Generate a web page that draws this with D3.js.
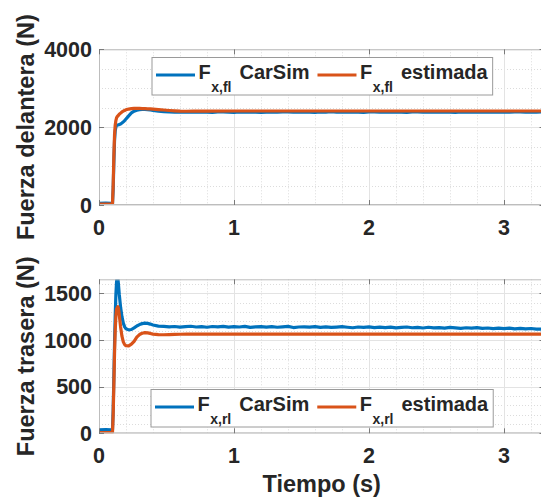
<!DOCTYPE html>
<html>
<head>
<meta charset="utf-8">
<script src="https://cdn.jsdelivr.net/npm/d3@7"></script>
<style>
  html, body { margin: 0; padding: 0; background: #fff; }
  svg { display: block; }
</style>
</head>
<body>
<svg id="chart" width="541" height="502"></svg>
<script>
// ---- Data -------------------------------------------------------------
// Start-up transient sample times (s), shared by every signal
const tiempoTransitorio = [0, 0.05, 0.09, 0.10, 0.105, 0.11, 0.115, 0.12, 0.125, 0.13,
  0.135, 0.14, 0.145, 0.15, 0.16, 0.17, 0.18, 0.19, 0.20, 0.22,
  0.24, 0.26, 0.28, 0.30, 0.32, 0.34, 0.36, 0.38, 0.40, 0.44];

// Steady-state sample times of the CarSim signals (s)
const tiempoCarSimEstable = [
  0.48, 0.52, 0.56, 0.60, 0.64, 0.68, 0.72, 0.76, 0.80, 0.84,
  0.88, 0.92, 0.96, 1.00, 1.04, 1.08, 1.12, 1.16, 1.20, 1.24,
  1.28, 1.32, 1.36, 1.40, 1.44, 1.48, 1.52, 1.56, 1.60, 1.64,
  1.68, 1.72, 1.76, 1.80, 1.84, 1.88, 1.92, 1.96, 2.00, 2.04,
  2.08, 2.12, 2.16, 2.20, 2.24, 2.28, 2.32, 2.36, 2.40, 2.44,
  2.48, 2.52, 2.56, 2.60, 2.64, 2.68, 2.72, 2.76, 2.80, 2.84,
  2.88, 2.92, 2.96, 3.00, 3.04, 3.08, 3.12, 3.16, 3.20, 3.24,
  3.28, 3.30];

// Steady-state sample times of the estimated signals (s)
const tiempoEstimadaEstable = [0.48, 0.52, 0.56, 0.60, 0.65, 0.70, 0.80, 1.0, 1.2, 1.5, 2.0, 2.5, 3.0, 3.3];

// Front longitudinal force, CarSim (N)
const fxFlCarSim = [
  45, 48, 44, 46, 400, 1100, 1650, 1900, 2000, 2040,
  2048, 2055, 2060, 2065, 2080, 2105, 2135, 2170, 2210, 2290,
  2365, 2410, 2435, 2450, 2455, 2455, 2450, 2440, 2430, 2412,
  2400, 2392, 2388, 2384, 2390, 2383, 2388, 2392, 2385, 2381,
  2389, 2394, 2386, 2382, 2390, 2387, 2393, 2384, 2380, 2388,
  2391, 2385, 2389, 2394, 2383, 2387, 2392, 2386, 2381, 2390,
  2388, 2395, 2384, 2389, 2383, 2391, 2387, 2382, 2390, 2393,
  2385, 2388, 2384, 2392, 2386, 2381, 2389, 2394, 2387, 2383,
  2390, 2385, 2392, 2388, 2382, 2389, 2386, 2393, 2384, 2388,
  2391, 2383, 2387, 2390, 2385, 2389, 2392, 2384, 2388, 2386,
  2390, 2387];

// Front longitudinal force, estimated (N)
const fxFlEstimada = [
  20, 20, 20, 25, 500, 1250, 1800, 2050, 2170, 2240,
  2270, 2290, 2310, 2330, 2360, 2390, 2410, 2430, 2445, 2465,
  2475, 2480, 2480, 2480, 2478, 2475, 2472, 2468, 2462, 2450,
  2440, 2428, 2418, 2410, 2408, 2410, 2413, 2415, 2415, 2415,
  2415, 2415, 2415, 2415];

// Rear longitudinal force, CarSim (N)
const fxRlCarSim = [
  38, 40, 36, 40, 250, 600, 950, 1250, 1480, 1620,
  1690, 1660, 1580, 1490, 1350, 1250, 1180, 1140, 1120, 1108,
  1112, 1130, 1150, 1165, 1175, 1180, 1178, 1170, 1160, 1148,
  1146, 1141, 1144, 1138, 1143, 1147, 1139, 1142, 1136, 1144,
  1140, 1145, 1137, 1142, 1139, 1146, 1135, 1141, 1143, 1138,
  1142, 1136, 1140, 1145, 1133, 1139, 1141, 1137, 1143, 1135,
  1140, 1134, 1138, 1142, 1136, 1131, 1139, 1135, 1141, 1133,
  1137, 1132, 1138, 1130, 1135, 1139, 1131, 1134, 1128, 1136,
  1130, 1133, 1127, 1134, 1129, 1124, 1131, 1126, 1132, 1125,
  1128, 1122, 1127, 1121, 1126, 1119, 1124, 1118, 1123, 1117,
  1115, 1117];

// Rear longitudinal force, estimated (N)
const fxRlEstimada = [
  8, 8, 8, 10, 200, 520, 850, 1100, 1250, 1330,
  1345, 1358, 1330, 1270, 1140, 1040, 980, 950, 938, 936,
  955, 985, 1030, 1058, 1072, 1078, 1076, 1070, 1063, 1057,
  1056, 1058, 1060, 1061, 1062, 1062, 1062, 1062, 1062, 1062,
  1062, 1062, 1062, 1062];

const tiempoCarSim = tiempoTransitorio.concat(tiempoCarSimEstable);
const tiempoEstimada = tiempoTransitorio.concat(tiempoEstimadaEstable);

const xTicks = [0, 1, 2, 3];
const xMinorTicks = [0.2, 0.4, 0.6, 0.8, 1.2, 1.4, 1.6, 1.8, 2.2, 2.4, 2.6, 2.8, 3.2];
const yTicksDelantera = [0, 2000, 4000];
const yMinorDelantera = [500, 1000, 1500, 2500, 3000, 3500];
const yTicksTrasera = [0, 500, 1000, 1500];
const yMinorTrasera = [100, 200, 300, 400, 600, 700, 800, 900, 1100, 1200, 1300, 1400, 1600];

const series = [
  { name: "CarSim", color: "#0072BD" },
  { name: "estimada", color: "#D95319" }
];

// ---- Styling ----------------------------------------------------------
const FONT = '"Liberation Sans", Arial, Helvetica, sans-serif';
const TEXT = "#262626";
const svg = d3.select("#chart");

const xLeft = 99, xRight = 544.5;
const x = d3.scaleLinear().domain([0, 3.3]).range([xLeft, xRight]);

function drawPanel(opts) {
  const { top, bottom, yMax, yTicks, yMinor, lines, yLabel, sub, legendTop, legendLeft, id } = opts;
  const y = d3.scaleLinear().domain([0, yMax]).range([bottom, top]);
  const g = svg.append("g");

  g.append("rect").attr("x", xLeft).attr("y", top)
    .attr("width", xRight - xLeft).attr("height", bottom - top).attr("fill", "#fff");

  // minor grid
  const minor = g.append("g").attr("stroke", "#dcdcdc").attr("stroke-width", 1)
    .attr("stroke-dasharray", "1,2");
  minor.selectAll(".mx").data(xMinorTicks).join("line")
    .attr("x1", d => Math.round(x(d)) + 0.5).attr("x2", d => Math.round(x(d)) + 0.5)
    .attr("y1", top).attr("y2", bottom);
  minor.selectAll(".my").data(yMinor).join("line")
    .attr("y1", d => Math.round(y(d)) + 0.5).attr("y2", d => Math.round(y(d)) + 0.5)
    .attr("x1", xLeft).attr("x2", xRight);

  // major grid
  const major = g.append("g").attr("stroke", "#e3e3e3").attr("stroke-width", 1);
  major.selectAll(".gx").data(xTicks).join("line")
    .attr("x1", d => Math.round(x(d)) + 0.5).attr("x2", d => Math.round(x(d)) + 0.5)
    .attr("y1", top).attr("y2", bottom);
  major.selectAll(".gy").data(yTicks).join("line")
    .attr("y1", d => Math.round(y(d)) + 0.5).attr("y2", d => Math.round(y(d)) + 0.5)
    .attr("x1", xLeft).attr("x2", xRight);

  // data lines
  const clipId = "clip-" + id;
  svg.append("clipPath").attr("id", clipId).append("rect")
    .attr("x", xLeft).attr("y", top).attr("width", xRight - xLeft).attr("height", bottom - top);
  const line = d3.line().x(d => x(d[0])).y(d => y(d[1]));
  const lg = g.append("g").attr("clip-path", `url(#${clipId})`);
  lines.forEach((ln, i) => {
    lg.append("path")
      .datum(d3.zip(ln.t, ln.v))
      .attr("d", line)
      .attr("fill", "none")
      .attr("stroke", series[i].color)
      .attr("stroke-width", 3.2)
      .attr("stroke-linejoin", "round")
      .attr("stroke-linecap", "round");
  });

  // axes box
  g.append("rect").attr("x", xLeft + 0.5).attr("y", top + 0.5)
    .attr("width", xRight - xLeft - 1).attr("height", bottom - top - 1)
    .attr("fill", "none").attr("stroke", "#bdbdbd").attr("stroke-width", 1);

  // inward tick marks
  const tk = g.append("g").attr("stroke", "#7a7a7a").attr("stroke-width", 1);
  xTicks.forEach(d => {
    const px = Math.round(x(d)) + 0.5;
    tk.append("line").attr("x1", px).attr("x2", px).attr("y1", bottom).attr("y2", bottom - 5);
    tk.append("line").attr("x1", px).attr("x2", px).attr("y1", top).attr("y2", top + 5);
  });
  yTicks.forEach(d => {
    const py = Math.round(y(d)) + 0.5;
    tk.append("line").attr("x1", xLeft).attr("x2", xLeft + 5).attr("y1", py).attr("y2", py);
    tk.append("line").attr("x1", xRight).attr("x2", xRight - 5).attr("y1", py).attr("y2", py);
  });

  // tick labels
  const tl = g.append("g").attr("font-family", FONT).attr("font-weight", "bold")
    .attr("font-size", 21.5).attr("fill", TEXT);
  tl.selectAll(".xl").data(xTicks).join("text")
    .attr("x", d => x(d)).attr("y", bottom + 29.5)
    .attr("text-anchor", "middle").text(d => d);
  tl.selectAll(".yl").data(yTicks).join("text")
    .attr("x", xLeft - 7).attr("y", d => y(d) + 7.7)
    .attr("text-anchor", "end").text(d => d);

  // axis label
  g.append("text")
    .attr("transform", `translate(34,${(top + bottom) / 2}) rotate(-90)`)
    .attr("text-anchor", "middle")
    .attr("font-family", FONT).attr("font-weight", "bold").attr("font-size", 23.5)
    .attr("fill", TEXT).text(yLabel);

  // legend
  const leg = g.append("g");
  const box = leg.append("rect").attr("fill", "#fff").attr("stroke", "#9a9a9a").attr("stroke-width", 1);
  let cx = legendLeft + 4.5;
  series.forEach((s, i) => {
    leg.append("line").attr("x1", cx).attr("x2", cx + 39)
      .attr("y1", legendTop + 18).attr("y2", legendTop + 18)
      .attr("stroke", s.color).attr("stroke-width", 3.2);
    cx += 42.5;
    const t = leg.append("text").attr("font-family", FONT).attr("font-weight", "bold").attr("fill", TEXT);
    const f = t.append("tspan").attr("x", cx).attr("y", legendTop + 22).attr("font-size", 20).text("F");
    cx += f.node().getComputedTextLength();
    const sb = t.append("tspan").attr("x", cx + 0.5).attr("y", legendTop + 34.5).attr("font-size", 14).text(sub);
    cx += sb.node().getComputedTextLength() + 8.5;
    const nm = t.append("tspan").attr("x", cx).attr("y", legendTop + 22).attr("font-size", 20).text(s.name);
    cx += nm.node().getComputedTextLength();
    if (i < series.length - 1) cx += 8;
  });
  box.attr("x", legendLeft + 0.5).attr("y", legendTop + 0.5)
    .attr("width", cx + 4.5 - legendLeft).attr("height", 37.5);
}

drawPanel({
  id: "delantera", top: 49.3, bottom: 205, yMax: 4000,
  yTicks: yTicksDelantera, yMinor: yMinorDelantera,
  lines: [{ t: tiempoCarSim, v: fxFlCarSim }, { t: tiempoEstimada, v: fxFlEstimada }],
  yLabel: "Fuerza delantera (N)", sub: "x,fl", legendTop: 57, legendLeft: 151.5
});

drawPanel({
  id: "trasera", top: 279.3, bottom: 433.3, yMax: 1650,
  yTicks: yTicksTrasera, yMinor: yMinorTrasera,
  lines: [{ t: tiempoCarSim, v: fxRlCarSim }, { t: tiempoEstimada, v: fxRlEstimada }],
  yLabel: "Fuerza trasera (N)", sub: "x,rl", legendTop: 389, legendLeft: 150.5
});

svg.append("text")
  .attr("x", (xLeft + xRight) / 2).attr("y", 492)
  .attr("text-anchor", "middle")
  .attr("font-family", FONT).attr("font-weight", "bold").attr("font-size", 23.5)
  .attr("fill", TEXT).text("Tiempo (s)");
</script>
</body>
</html>
